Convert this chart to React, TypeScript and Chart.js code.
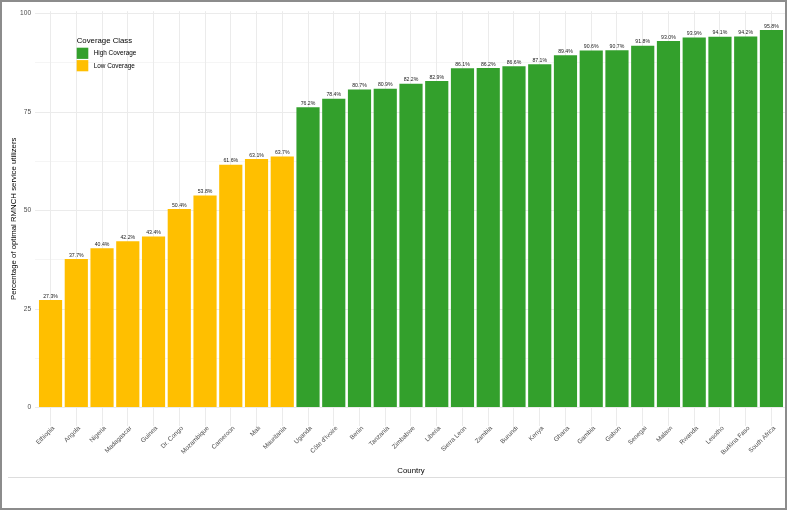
import React, { useEffect, useRef } from "react";
import { Chart, registerables } from "chart.js";

Chart.register(...registerables);

// Countries ordered by coverage, with the share of optimal RMNCH service utilizers (%)
const countries = [
  "Ethiopia", "Angola", "Nigeria", "Madagascar", "Guinea", "Dr. Congo", "Mozambique",
  "Cameroon", "Mali", "Mauritania", "Uganda", "Côte d'Ivoire", "Benin", "Tanzania",
  "Zimbabwe", "Liberia", "Sierra Leon", "Zambia", "Burundi", "Kenya", "Ghana", "Gambia",
  "Gabon", "Senegal", "Malawi", "Rwanda", "Lesotho", "Burkina Faso", "South Africa",
];
const coverage = [
  27.3, 37.7, 40.4, 42.2, 43.4, 50.4, 53.8, 61.6, 63.1, 63.7, 76.2, 78.4, 80.7, 80.9,
  82.2, 82.9, 86.1, 86.2, 86.6, 87.1, 89.4, 90.6, 90.7, 91.8, 93.0, 93.9, 94.1, 94.2, 95.8,
];
const coverageClass = [
  "Low", "Low", "Low", "Low", "Low", "Low", "Low", "Low", "Low", "Low",
  "High", "High", "High", "High", "High", "High", "High", "High", "High", "High",
  "High", "High", "High", "High", "High", "High", "High", "High", "High",
];
const legendClasses = ["High", "Low"];
const legendLabels = ["High Coverage", "Low Coverage"];
const yTicks = [0, 25, 50, 75, 100];

const COLORS: Record<string, string> = { High: "#33a02c", Low: "#ffbf00" };
const FONT = "'Liberation Sans', Arial, sans-serif";
const GRID = "#ebebeb";

const frameAndLegend = {
  id: "frameAndLegend",
  beforeDraw(chart: any) {
    const { ctx, width, height } = chart;
    ctx.save();
    ctx.fillStyle = "#ffffff";
    ctx.fillRect(0, 0, width, height);
    ctx.restore();
  },
  afterDatasetsDraw(chart: any) {
    const { ctx } = chart;
    const meta = chart.getDatasetMeta(0);
    ctx.save();
    ctx.font = `5.2px ${FONT}`;
    ctx.fillStyle = "#222222";
    ctx.textAlign = "center";
    ctx.textBaseline = "bottom";
    meta.data.forEach((el: any, i: number) => {
      ctx.fillText(`${coverage[i].toFixed(1)}%`, el.x, el.y - 1.2);
    });
    ctx.restore();
  },
  afterDraw(chart: any) {
    const { ctx } = chart;
    ctx.save();
    // legend
    ctx.fillStyle = "#000000";
    ctx.textBaseline = "middle";
    ctx.textAlign = "left";
    ctx.font = `7.8px ${FONT}`;
    ctx.fillText("Coverage Class", 76.7, 40.5);
    ctx.font = `6.4px ${FONT}`;
    legendClasses.forEach((c, i) => {
      const y = 47.7 + i * 12.4;
      ctx.fillStyle = COLORS[c];
      ctx.fillRect(76.7, y, 11.6, 11.2);
      ctx.fillStyle = "#000000";
      ctx.fillText(legendLabels[i], 93.7, y + 5.9);
    });
    // frame
    ctx.strokeStyle = "#dddddd";
    ctx.lineWidth = 1;
    ctx.beginPath();
    ctx.moveTo(8, 477.5);
    ctx.lineTo(786, 477.5);
    ctx.stroke();
    ctx.strokeStyle = "#8c8c8c";
    ctx.lineWidth = 2;
    ctx.strokeRect(1, 1, 785, 508);
    ctx.restore();
  },
};

export default function App() {
  const ref = useRef<HTMLCanvasElement>(null);

  useEffect(() => {
    document.body.style.margin = "0";
    const canvas = ref.current!;
    const chart = new Chart(canvas, {
      type: "bar",
      data: {
        datasets: [
          {
            data: coverage.map((v, i) => ({ x: i + 1, y: v })),
            backgroundColor: coverageClass.map((c) => COLORS[c]),
            borderWidth: 0,
            barPercentage: 0.9,
            categoryPercentage: 1,
          },
        ],
      },
      options: {
        responsive: false,
        animation: false,
        devicePixelRatio: 1,
        layout: { padding: { left: 0, right: 1.1, top: 11.2, bottom: 34 } },
        plugins: { legend: { display: false }, tooltip: { enabled: false } },
        scales: {
          x: {
            type: "linear",
            min: 0.4,
            max: 29.6,
            offset: false,
            afterBuildTicks: (scale: any) => {
              scale.ticks = countries.map((_, i) => ({ value: i + 1 }));
            },
            afterFit: (scale: any) => {
              scale.height = 50.6;
            },
            ticks: {
              autoSkip: false,
              minRotation: 45,
              maxRotation: 45,
              padding: -2,
              labelOffset: 3,
              color: "#4d4d4d",
              font: { family: FONT, size: 6.4 },
              callback: (v: any) => countries[Math.round(v) - 1] ?? "",
            },
            grid: { color: GRID, lineWidth: 1, drawTicks: false, offset: false },
            border: { display: false },
            title: {
              display: true,
              text: "Country",
              color: "#000000",
              font: { family: FONT, size: 7.8 },
              padding: { top: 0, bottom: 1.8 },
            },
          },
          y: {
            type: "linear",
            min: -4.79,
            max: 100.59,
            afterBuildTicks: (scale: any) => {
              const t: any[] = [];
              yTicks.forEach((v, i) => {
                t.push({ value: v });
                if (i < yTicks.length - 1) t.push({ value: (v + yTicks[i + 1]) / 2 });
              });
              scale.ticks = t;
            },
            afterFit: (scale: any) => {
              scale.width = 35.1;
            },
            ticks: {
              padding: 4,
              color: "#4d4d4d",
              font: { family: FONT, size: 6.6 },
              callback: (v: any) => (yTicks.includes(v) ? String(v) : ""),
            },
            grid: {
              color: GRID,
              drawTicks: false,
              lineWidth: (ctx: any) => (yTicks.includes(ctx.tick?.value) ? 1 : 0.5),
            },
            border: { display: false },
            title: {
              display: true,
              text: "Percentage of optimal RMNCH service utilizers",
              color: "#000000",
              font: { family: FONT, size: 7.8 },
              padding: { top: 9.3, bottom: 0 },
            },
          },
        },
      },
      plugins: [frameAndLegend],
    });
    return () => chart.destroy();
  }, []);

  return <canvas ref={ref} width={788} height={511} style={{ display: "block" }} />;
}
